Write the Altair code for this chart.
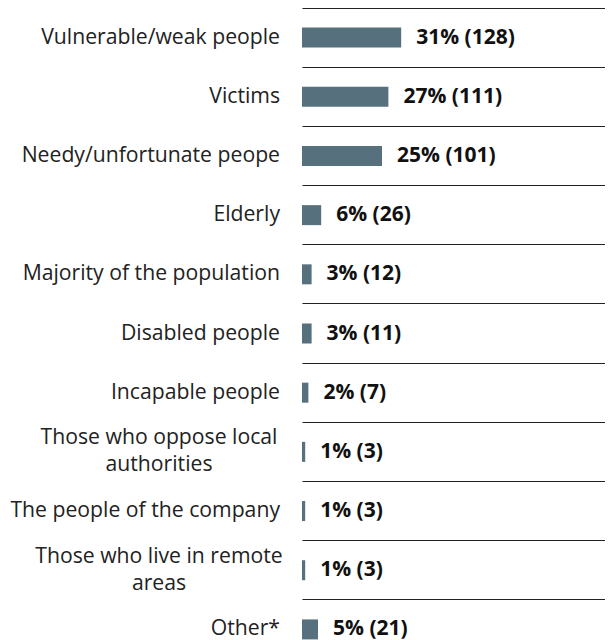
import altair as alt
import pandas as pd

categories = [
    "Vulnerable/weak people",
    "Victims",
    "Needy/unfortunate peope",
    "Elderly",
    "Majority of the population",
    "Disabled people",
    "Incapable people",
    "Those who oppose local\nauthorities",
    "The people of the company",
    "Those who live in remote\nareas",
    "Other*",
]
percents = [31, 27, 25, 6, 3, 3, 2, 1, 1, 1, 5]
counts = [128, 111, 101, 26, 12, 11, 7, 3, 3, 3, 21]

df = pd.DataFrame({"category": categories, "pct": percents, "count": counts})
df["value_label"] = [f"{p}% ({c})" for p, c in zip(percents, counts)]
df["wrapped"] = ["\n" in c for c in categories]

FONT = "Open Sans"
BAR_COLOR = "#57707d"

y_enc = alt.Y(
    "category:N",
    sort=categories,
    scale=alt.Scale(paddingInner=0, paddingOuter=0),
    axis=alt.Axis(
        labels=False,
        ticks=False,
        domain=False,
        title=None,
        grid=True,
        bandPosition=0,
        gridColor="#222222",
        gridWidth=1,
    ),
)
x_enc = alt.X(
    "pct:Q",
    scale=alt.Scale(domain=[0, 94.7], nice=False, zero=True),
    axis=None,
)

base = alt.Chart(df)

bars = base.mark_bar(size=20, color=BAR_COLOR).encode(x=x_enc, y=y_enc)

values = base.mark_text(
    align="left", baseline="middle", dx=15, font=FONT, fontSize=21,
    fontWeight="bold", color="#111111",
).encode(x=x_enc, y=y_enc, text="value_label:N")

labels_single = base.transform_filter("!datum.wrapped").mark_text(
    align="right", baseline="middle", font=FONT, fontSize=21.2, color="#222222",
).encode(x=alt.value(-22), y=y_enc, text="category:N")

labels_wrapped = base.transform_filter("datum.wrapped").mark_text(
    align="center", baseline="middle", font=FONT, fontSize=21.2, color="#222222",
    lineBreak="\n", lineHeight=27, dy=-13.5,
).encode(x=alt.value(-143), y=y_enc, text="category:N")

chart = (
    alt.layer(bars, values, labels_single, labels_wrapped)
    .properties(
        width=303,
        height=651,
        autosize=alt.AutoSizeParams(type="none"),
        padding={"left": 294, "top": 0, "right": 0, "bottom": 0},
    )
    .configure_view(stroke=None)
)

chart.save("out.html", embed_options={"renderer": "svg", "actions": False})
